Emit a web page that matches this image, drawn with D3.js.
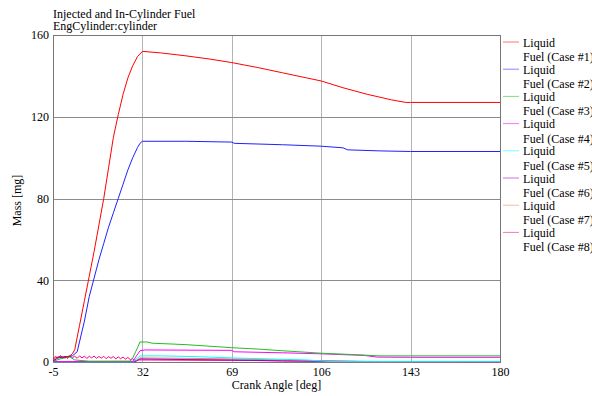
<!DOCTYPE html>
<html>
<head>
<meta charset="utf-8">
<script src="https://d3js.org/d3.v7.min.js"></script>
<style>
  body { margin: 0; background: #fff; }
  text { font-family: "Liberation Serif", "Times New Roman", serif; font-size: 12px; fill: #000; }
</style>
</head>
<body>
<div id="chart"></div>
<script>
// tick labels
var xTicks = [-5, 32, 69, 106, 143, 180];
var yTicks = [0, 40, 80, 120, 160];

var seriesNames = ["Liquid Fuel (Case #1)", "Liquid Fuel (Case #2)", "Liquid Fuel (Case #3)", "Liquid Fuel (Case #4)",
                   "Liquid Fuel (Case #5)", "Liquid Fuel (Case #6)", "Liquid Fuel (Case #7)", "Liquid Fuel (Case #8)"];
var seriesColors = ["#ff0000", "#2020ff", "#20c020", "#ff00ff", "#00ffff", "#a000c0", "#f08060", "#ff0080"];

// [crank angle, mass]
var case1 = [[-5,0.5],[-4,2],[-2,2.8],[0,2.2],[2,3],[3,4],[4,6],[6,18],[8,30],[10,42],[12,54],[14,67],[16,80],
             [18,95],[20,110],[22,121],[24,131],[26,139],[28,145],[30,149.5],[32,152],[40,151.2],[50,149.8],
             [60,148.2],[69,146.5],[80,144],[90,141.5],[100,139],[106,137.5],[115,134.2],[125,131],[135,128.3],
             [141,127],[143,127],[180,127]];
var case2 = [[-5,0.5],[-3,2],[0,2.5],[3,3],[5,5],[8,20],[10,32],[12,41],[14,50],[16,58],[18,66],[20,73],[22,80],
             [24,87],[26,94],[28,100],[30,105],[31,107],[32,108],[50,108],[69,107.6],[70,107],[90,106.3],
             [106,105.6],[115,104.8],[117,103.8],[130,103.3],[143,103],[180,103]];
var case3 = [[-5,0.3],[-2,1.5],[2,2.5],[4,1],[10,0.4],[27,0.4],[28,2],[30,7],[31,9.8],[34,9.8],[36,9.2],
             [50,8.5],[69,7],[80,6.3],[90,5.5],[106,4.3],[120,3.6],[130,3],[143,3],[180,3]];
var case4 = [[-5,0.2],[28,0.3],[29,2],[31,5.5],[33,5.9],[50,5.8],[69,5.7],[70,5],[90,4.5],[106,4],
             [115,3.6],[124,3.2],[129,2.4],[143,2.3],[180,2.3]];
var case5 = [[-5,0.1],[28,0.1],[30,2],[31,3],[40,3],[55,2.6],[69,2],[85,1.5],[100,1],[106,0.5],[110,0.2],[180,0.2]];
var case6 = [[-5,0.1],[29,0.1],[31,1.5],[50,1.2],[69,1],[90,0.5],[110,0.3],[130,0.2],[180,0.1]];
var case7 = [[-5,0.1],[29,0.2],[31,2],[50,1.8],[69,1.5],[90,1],[106,0.5],[130,0.1],[180,0.1]];
var case8 = [[-5,1.5],[-4,2.8],[-3,1.8],[-2,3.1],[-1,2.0],[0,2.9],[1,1.7],[2,3.0],[3,2.1],[4,2.8],[5,1.8],
             [6,3.0],[7,2.0],[8,2.9],[9,1.7],[10,2.8],[11,2.0],[12,2.9],[13,1.8],[14,2.7],[15,1.9],[16,2.8],
             [17,1.6],[18,2.6],[19,1.8],[20,2.7],[21,1.5],[22,2.5],[23,1.6],[24,2.4],[25,1.4],[26,2.2],
             [27,1.2],[28,1.6],[29,0.6],[30,1.0],[32,1.0],[50,0.9],[69,0.8],[90,0.6],[106,0.5],[125,0.3],
             [140,0.2],[180,0.1]];
var allCases = [case1, case2, case3, case4, case5, case6, case7, case8];

var W = 592, H = 396;
var margin = { top: 35, right: 92, bottom: 34, left: 53 };
var width = W - margin.left - margin.right,
    height = H - margin.top - margin.bottom;

var svg = d3.select("#chart").append("svg")
    .attr("width", W).attr("height", H);

var g = svg.append("g")
    .attr("transform", "translate(" + margin.left + "," + margin.top + ")");

var x = d3.scaleLinear().domain([-5, 180]).range([0, width]);
var y = d3.scaleLinear().domain([0, 160]).range([height, 0]);

// grid
g.selectAll(".vgrid").data(xTicks.slice(1, -1)).enter().append("line")
    .attr("x1", function (d) { return Math.round(x(d)) + 0.5; })
    .attr("x2", function (d) { return Math.round(x(d)) + 0.5; })
    .attr("y1", 0).attr("y2", height)
    .attr("stroke", "#b4b4b4");
g.selectAll(".hgrid").data(yTicks.slice(1, -1)).enter().append("line")
    .attr("x1", 0).attr("x2", width)
    .attr("y1", function (d) { return Math.round(y(d)) + 0.5; })
    .attr("y2", function (d) { return Math.round(y(d)) + 0.5; })
    .attr("stroke", "#8c8c8c");

// frame
g.append("rect").attr("x", 0.5).attr("y", 0.5)
    .attr("width", width).attr("height", height)
    .attr("fill", "none").attr("stroke", "#777");

// axes (plain hyphen for negatives, as in the original)
var plain = function (d) { return String(d); };
var xAxis = g.append("g")
    .attr("transform", "translate(0," + height + ")")
    .call(d3.axisBottom(x).tickValues(xTicks).tickFormat(plain).tickSize(0).tickPadding(5));
var yAxis = g.append("g")
    .call(d3.axisLeft(y).tickValues(yTicks).tickFormat(plain).tickSize(0).tickPadding(4));
[xAxis, yAxis].forEach(function (a) {
    a.attr("font-family", null).attr("font-size", null);
    a.select(".domain").remove();
    a.selectAll("text").attr("fill", "#000");
});

g.append("clipPath").attr("id", "clip").append("rect")
    .attr("x", 0).attr("y", 0).attr("width", width + 1).attr("height", height + 1);

var line = d3.line()
    .x(function (d) { return x(d[0]); })
    .y(function (d) { return y(d[1]); });

// draw from last to first so case #1 stays on top
for (var i = allCases.length - 1; i >= 0; i--) {
    g.append("path")
        .attr("clip-path", "url(#clip)")
        .attr("d", line(allCases[i]))
        .attr("fill", "none")
        .attr("stroke", seriesColors[i])
        .attr("stroke-width", 1);
}

// titles
svg.append("text").attr("x", 53).attr("y", 18).text("Injected and In-Cylinder Fuel");
svg.append("text").attr("x", 53).attr("y", 30).text("EngCylinder:cylinder");
svg.append("text").attr("x", margin.left + width / 2).attr("y", 389)
    .attr("text-anchor", "middle").text("Crank Angle [deg]");
svg.append("text")
    .attr("transform", "translate(21," + (margin.top + height / 2 + 2) + ") rotate(-90)")
    .attr("text-anchor", "middle").text("Mass [mg]");

// legend
var legend = svg.selectAll(".leg").data(seriesNames).enter().append("g")
    .attr("transform", function (d, i) { return "translate(503," + (41.5 + i * 27.2) + ")"; });
legend.append("line").attr("x1", 0).attr("x2", 16).attr("y1", 0.5).attr("y2", 0.5)
    .attr("stroke", function (d, i) { return seriesColors[i]; })
    .attr("stroke-opacity", 0.55);
legend.append("text").attr("x", 20).attr("y", 5).text(function (d) { return d.split(" ")[0]; });
legend.append("text").attr("x", 20).attr("y", 19.5).text(function (d) { return d.split(" ").slice(1).join(" "); });
</script>
</body>
</html>
